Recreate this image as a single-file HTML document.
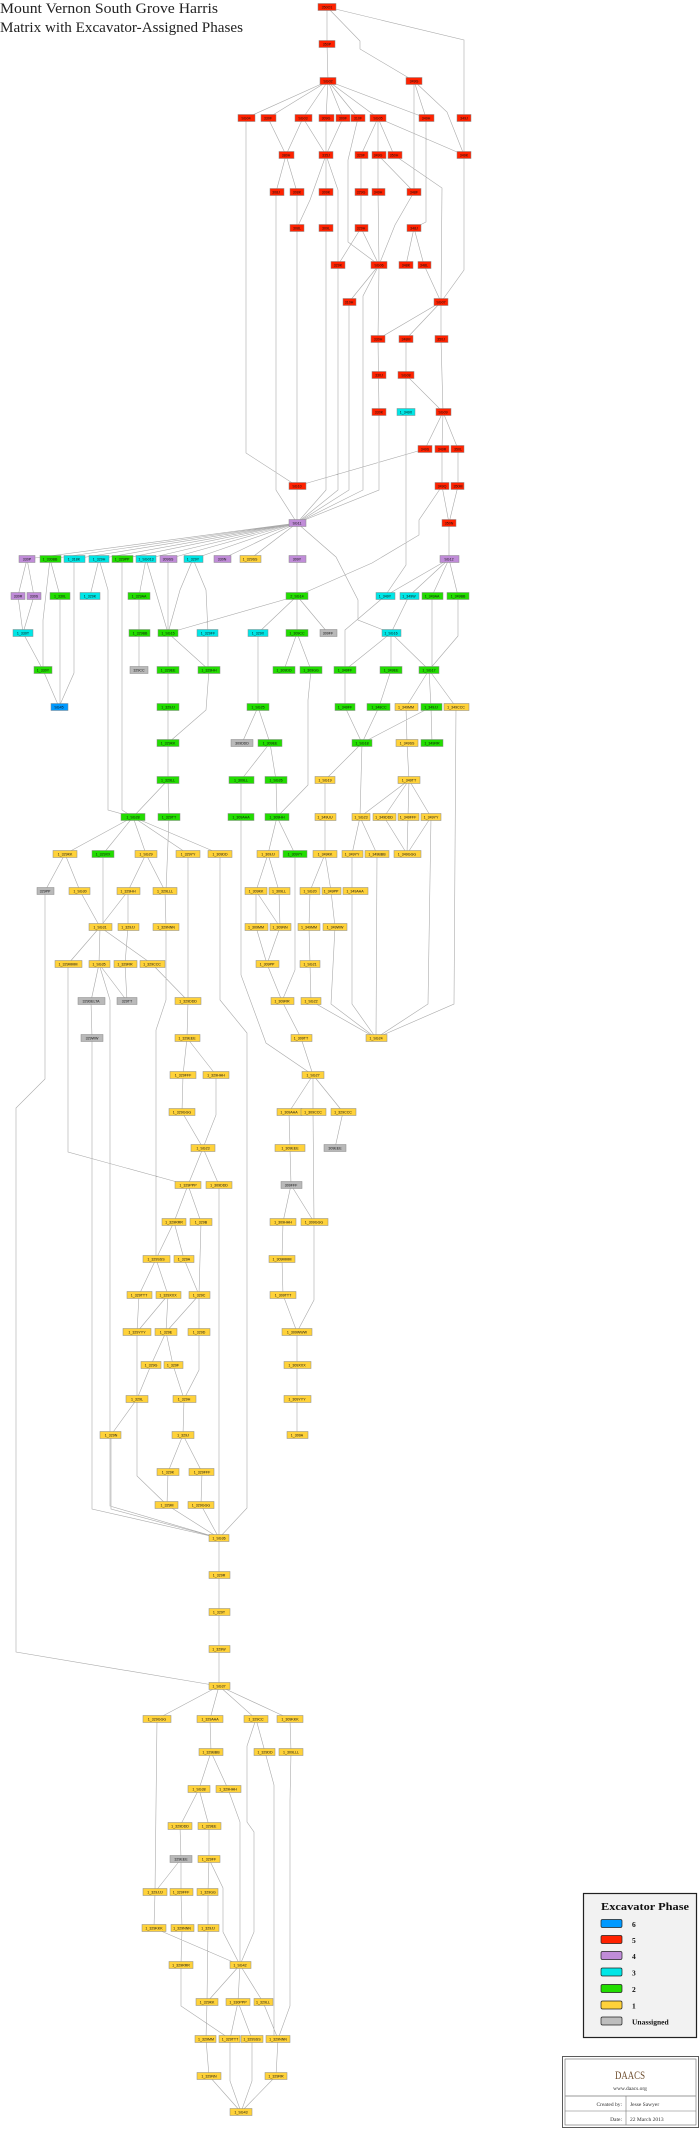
<!DOCTYPE html>
<html><head><meta charset="utf-8"><style>
html,body{margin:0;padding:0;background:#fff;}
svg{display:block}
.e{fill:none;stroke:#aaa;stroke-width:0.6}
rect.n{stroke:#888;stroke-width:0.5}
.R{fill:#ff2200}.P{fill:#c08cd8}.C{fill:#00e6e6}.G{fill:#22dd00}.Y{fill:#ffd23a}.U{fill:#b9b9b9}.B{fill:#0099ff}
text.t{font-family:"Liberation Sans",sans-serif;font-size:3.6px;text-anchor:middle;fill:#111}
</style></head><body>
<svg width="700" height="2129" viewBox="0 0 700 2129" xmlns="http://www.w3.org/2000/svg">
<text x="0" y="13" font-family="Liberation Serif,serif" font-size="15" textLength="218" lengthAdjust="spacingAndGlyphs" fill="#222">Mount Vernon South Grove Harris</text>
<text x="0" y="32" font-family="Liberation Serif,serif" font-size="15" textLength="243" lengthAdjust="spacingAndGlyphs" fill="#222">Matrix with Excavator-Assigned Phases</text>
<path class="e" d="
M327 7L327 44 M327 7L360 41L360 49L414 81 M327 7L464 40L464 118 M327 44L328 81
M328 81L246 118 M328 81L268 118 M328 81L303 118 M328 81L326 118 M328 81L343 118 M328 81L358 118 M328 81L378 118 M328 81L426 118
M414 81L414 192 M414 81L426 118 M414 81L447 112L464 155 M464 118L464 155
M268 118L286 155 M303 118L286 155 M303 118L326 155 M326 118L326 155 M343 118L326 155
M358 118L348 160L348 242L379 265
M378 118L361 155 M378 118L378 155 M378 118L394 155 M378 118L464 155
M286 155L276 192 M286 155L297 192 M326 155L326 192 M326 155L310 200L297 228 M326 155L338 190L338 265
M361 155L361 228 M378 155L378 192L379 265 M378 155L414 192 M394 155L442 188L441 302
M414 192L395 225L379 265 M426 118L426 222L414 228
M297 192L297 228 M326 192L326 228 M361 228L338 265 M361 228L379 265 M414 228L406 265 M414 228L424 265
M464 155L464 270L441 302 M424 265L441 302
M379 265L349 302 M379 265L378 339 M379 265L363 296L363 490L297 523
M441 302L378 339 M441 302L406 339 M441 302L441 339
M378 339L379 412 M406 339L406 375 M406 375L443 412 M406 375L406 412 M441 339L443 412
M443 412L425 449 M443 412L442 449 M443 412L458 449 M442 449L442 486 M458 449L458 486 M442 486L449 523 M458 486L449 523
M425 449L297 486 M246 118L246 453L297 486 M297 486L297 523
M276 192L276 490L297 523 M297 228L297 486 M326 228L326 490L297 523 M338 265L338 490L297 523 M349 302L349 490L297 523 M379 412L379 490L297 523
M442 486L419 520L419 535L372 563L297 596
M406 412L406 565L385 596 M449 523L449 559
M297 523L27 559 M297 523L50 559 M297 523L74 559 M297 523L99 559 M297 523L122 559 M297 523L146 559 M297 523L168 559 M297 523L193 559 M297 523L222 559 M297 523L250 559 M297 523L297 559 M297 523L336 557L358 600L358 620L391 633
M449 559L385 596 M449 559L409 596 M449 559L432 596 M449 559L458 596
M27 559L18 596 M27 559L34 596 M18 596L23 633 M34 596L23 633
M50 559L60 596 M50 559L43 620L43 670 M74 559L74 673L59 707
M99 559L90 596 M99 559L108 590L108 810L133 817 M122 559L122 810L133 817
M146 559L139 596 M146 559L168 633 M168 559L168 633 M193 559L180 590L168 633 M193 559L206 590L208 633
M297 559L297 596 M297 596L168 633 M297 596L258 633 M297 596L297 633 M297 596L328 633
M23 633L43 670 M60 596L60 707 M43 670L59 707
M139 596L139 670 M168 633L168 670 M168 633L209 670 M208 633L208 670 M209 670L206 710L168 743
M168 670L168 780 M258 633L258 707 M297 633L284 670 M297 633L311 670
M311 670L308 700L308 785L277 817
M391 633L345 670 M391 633L391 670 M391 633L429 670 M385 596L345 630L345 670 M409 596L391 633 M432 596L432 670 M458 596L458 636L429 670
M345 670L345 707 M391 670L379 707 M429 670L431 707 M429 670L456 707 M429 670L406 707
M345 707L362 743 M379 707L362 743 M431 707L362 743 M406 707L407 743 M431 707L432 743 M456 707L454 1004L376 1038
M258 707L242 743 M258 707L270 743 M270 743L241 780 M270 743L276 780
M362 743L325 780 M362 743L360 817 M407 743L409 780
M168 780L133 817 M168 780L169 817 M169 817L166 891
M241 780L241 817 M276 780L277 817 M325 780L325 817
M409 780L360 817 M409 780L384 817 M409 780L408 817 M409 780L431 817
M133 817L65 854 M133 817L103 854 M133 817L146 854 M133 817L188 854 M133 817L220 854
M241 817L241 975L266 1043L313 1075
M277 817L268 854 M277 817L295 854 M325 817L325 854 M360 817L352 854 M360 817L377 854
M384 817L407 854 M408 817L407 854 M431 817L407 854 M431 817L428 1004L376 1038
M65 854L45 891 M65 854L80 891 M103 854L103 927 M146 854L128 891 M146 854L165 891 M188 854L188 1001
M220 854L220 1000L247 1033L247 1508L219 1538
M268 854L256 891 M268 854L279 891 M325 854L310 891 M325 854L331 891
M352 854L352 1004L376 1038 M377 854L376 1038 M295 854L295 970L282 1001
M45 891L45 1079L16 1108L16 1652L219 1686
M80 891L100 927 M128 891L100 927 M128 891L128 927 M165 891L166 927
M256 891L256 927 M256 891L280 927 M279 891L280 927 M310 891L309 927 M331 891L335 927
M100 927L68 964 M100 927L99 964 M100 927L152 964 M128 927L125 964
M256 927L267 964 M280 927L267 964 M309 927L310 964 M335 927L331 1004L376 1038
M68 964L68 1152L188 1185
M99 964L91 1001 M99 964L127 1001 M99 964L110 1000L110 1506L219 1538
M125 964L127 1001 M152 964L188 1001 M166 927L166 1000L156 1030L156 1259
M267 964L282 1001 M310 964L311 1001 M311 1001L376 1038
M91 1001L92 1038 M92 1038L92 1509L219 1538
M188 1001L187 1038 M282 1001L301 1038
M187 1038L183 1075 M187 1038L216 1075 M301 1038L313 1075
M313 1075L289 1112 M313 1075L313 1112 M313 1075L343 1112
M183 1075L182 1112 M182 1112L203 1148 M216 1075L216 1115L203 1148
M203 1148L188 1185 M203 1148L219 1185 M289 1112L290 1148 M343 1112L335 1148 M313 1112L314 1222 M314 1222L314 1300L297 1332
M290 1148L291 1185 M291 1185L283 1222 M291 1185L314 1222
M188 1185L174 1222 M188 1185L201 1222 M219 1185L219 1538
M174 1222L156 1259 M174 1222L184 1259 M201 1222L199 1295 M283 1222L282 1259L283 1295L297 1332
M156 1259L139 1295 M156 1259L168 1295 M184 1259L199 1295
M139 1295L137 1332 M168 1295L137 1332 M168 1295L166 1332 M199 1295L166 1332 M199 1295L199 1332
M137 1332L137 1399 M166 1332L151 1365 M166 1332L173 1365 M199 1332L199 1370L184 1399
M151 1365L137 1399 M173 1365L184 1399 M297 1332L297 1435
M137 1399L111 1435 M137 1399L137 1476L167 1505 M184 1399L183 1435
M183 1435L168 1472 M183 1435L202 1472 M168 1472L167 1505 M202 1472L201 1505
M111 1435L111 1509L219 1538 M167 1505L219 1538 M201 1505L219 1538
M219 1538L219 1686
M219 1686L157 1719 M219 1686L210 1719 M219 1686L256 1719 M219 1686L290 1719
M157 1719L155 1892 M210 1719L211 1752
M256 1719L247 1746L247 1822L254 1832L254 1932L240 1965 M256 1719L265 1752
M290 1719L291 1752L290 1800L290 2006L278 2039 M265 1752L274 1785L274 2039
M211 1752L199 1789 M211 1752L228 1789 M199 1789L180 1826 M199 1789L209 1826 M228 1789L240 1822L240 1965
M180 1826L181 1859 M209 1826L209 1859 M181 1859L155 1892 M181 1859L181 1892 M209 1859L208 1892 M209 1859L223 1888L223 1932L240 1965
M155 1892L154 1928 M181 1892L182 1928 M208 1892L208 1928 M154 1928L240 1965 M182 1928L181 1965 M208 1928L207 2002
M240 1965L207 2002 M240 1965L238 2002 M240 1965L263 2002
M181 1965L181 2006L230 2039 M238 2002L230 2039 M238 2002L252 2039 M263 2002L278 2039
M207 2002L206 2039L209 2076L241 2112 M230 2039L230 2081L241 2112 M252 2039L252 2081L241 2112 M278 2039L276 2076L241 2112
"/>
<g id="nodes">
<rect class="n R" x="318" y="3.5" width="18" height="7"/><text class="t" x="327" y="8.7">350O1</text>
<rect class="n R" x="319" y="40.5" width="16" height="7"/><text class="t" x="327" y="45.7">350P</text>
<rect class="n R" x="320" y="77.5" width="16" height="7"/><text class="t" x="328" y="82.7">SG02</text>
<rect class="n R" x="406" y="77.5" width="16" height="7"/><text class="t" x="414" y="82.7">349G</text>
<rect class="n R" x="238" y="114.5" width="17" height="7"/><text class="t" x="246" y="119.7">SG04</text>
<rect class="n R" x="261" y="114.5" width="15" height="7"/><text class="t" x="268" y="119.7">330F</text>
<rect class="n R" x="295" y="114.5" width="17" height="7"/><text class="t" x="303" y="119.7">SG03</text>
<rect class="n R" x="319" y="114.5" width="15" height="7"/><text class="t" x="326" y="119.7">309G</text>
<rect class="n R" x="336" y="114.5" width="14" height="7"/><text class="t" x="343" y="119.7">309F</text>
<rect class="n R" x="351" y="114.5" width="14" height="7"/><text class="t" x="358" y="119.7">310F</text>
<rect class="n R" x="370" y="114.5" width="16" height="7"/><text class="t" x="378" y="119.7">SG05</text>
<rect class="n R" x="419" y="114.5" width="15" height="7"/><text class="t" x="426" y="119.7">349H</text>
<rect class="n R" x="457" y="114.5" width="14" height="7"/><text class="t" x="464" y="119.7">349J</text>
<rect class="n R" x="279" y="151.5" width="15" height="7"/><text class="t" x="286" y="156.7">380H</text>
<rect class="n R" x="319" y="151.5" width="14" height="7"/><text class="t" x="326" y="156.7">335J</text>
<rect class="n R" x="355" y="151.5" width="13" height="7"/><text class="t" x="361" y="156.7">329F</text>
<rect class="n R" x="372" y="151.5" width="14" height="7"/><text class="t" x="378" y="156.7">349G</text>
<rect class="n R" x="388" y="151.5" width="14" height="7"/><text class="t" x="394" y="156.7">350H</text>
<rect class="n R" x="457" y="151.5" width="14" height="7"/><text class="t" x="464" y="156.7">349K</text>
<rect class="n R" x="270" y="188.5" width="14" height="7"/><text class="t" x="276" y="193.7">308J</text>
<rect class="n R" x="290" y="188.5" width="14" height="7"/><text class="t" x="297" y="193.7">308K</text>
<rect class="n R" x="319" y="188.5" width="14" height="7"/><text class="t" x="326" y="193.7">309K</text>
<rect class="n R" x="355" y="188.5" width="13" height="7"/><text class="t" x="361" y="193.7">329G</text>
<rect class="n R" x="372" y="188.5" width="13" height="7"/><text class="t" x="378" y="193.7">349H</text>
<rect class="n R" x="407" y="188.5" width="14" height="7"/><text class="t" x="414" y="193.7">348F</text>
<rect class="n R" x="290" y="224.5" width="14" height="7"/><text class="t" x="297" y="229.7">308L</text>
<rect class="n R" x="319" y="224.5" width="14" height="7"/><text class="t" x="326" y="229.7">309L</text>
<rect class="n R" x="355" y="224.5" width="13" height="7"/><text class="t" x="361" y="229.7">329H</text>
<rect class="n R" x="407" y="224.5" width="14" height="7"/><text class="t" x="414" y="229.7">348J</text>
<rect class="n R" x="331" y="261.5" width="14" height="7"/><text class="t" x="338" y="266.7">329K</text>
<rect class="n R" x="371" y="261.5" width="16" height="7"/><text class="t" x="379" y="266.7">SG06</text>
<rect class="n R" x="399" y="261.5" width="14" height="7"/><text class="t" x="406" y="266.7">348K</text>
<rect class="n R" x="418" y="261.5" width="13" height="7"/><text class="t" x="424" y="266.7">348L</text>
<rect class="n R" x="343" y="298.5" width="13" height="7"/><text class="t" x="349" y="303.7">310H</text>
<rect class="n R" x="434" y="298.5" width="14" height="7"/><text class="t" x="441" y="303.7">SG07</text>
<rect class="n R" x="371" y="335.5" width="14" height="7"/><text class="t" x="378" y="340.7">330H</text>
<rect class="n R" x="399" y="335.5" width="14" height="7"/><text class="t" x="406" y="340.7">348M</text>
<rect class="n R" x="435" y="335.5" width="13" height="7"/><text class="t" x="441" y="340.7">350J</text>
<rect class="n R" x="372" y="371.5" width="14" height="7"/><text class="t" x="379" y="376.7">330J</text>
<rect class="n R" x="398" y="371.5" width="16" height="7"/><text class="t" x="406" y="376.7">SG08</text>
<rect class="n R" x="372" y="408.5" width="14" height="7"/><text class="t" x="379" y="413.7">330K</text>
<rect class="n C" x="397" y="408.5" width="18" height="7"/><text class="t" x="406" y="413.7">1_349X</text>
<rect class="n R" x="436" y="408.5" width="15" height="7"/><text class="t" x="443" y="413.7">SG09</text>
<rect class="n R" x="418" y="445.5" width="14" height="7"/><text class="t" x="425" y="450.7">349S</text>
<rect class="n R" x="435" y="445.5" width="14" height="7"/><text class="t" x="442" y="450.7">349R</text>
<rect class="n R" x="451" y="445.5" width="13" height="7"/><text class="t" x="458" y="450.7">350L</text>
<rect class="n R" x="289" y="482.5" width="17" height="7"/><text class="t" x="297" y="487.7">SG10</text>
<rect class="n R" x="435" y="482.5" width="14" height="7"/><text class="t" x="442" y="487.7">349Q</text>
<rect class="n R" x="451" y="482.5" width="13" height="7"/><text class="t" x="458" y="487.7">350M</text>
<rect class="n P" x="289" y="519.5" width="17" height="7"/><text class="t" x="297" y="524.7">SG11</text>
<rect class="n R" x="442" y="519.5" width="14" height="7"/><text class="t" x="449" y="524.7">350N</text>

<rect class="n P" x="19" y="555.5" width="16" height="7"/><text class="t" x="27" y="560.7">330P</text>
<rect class="n G" x="40" y="555.5" width="21" height="7"/><text class="t" x="50" y="560.7">1_330BB</text>
<rect class="n C" x="64" y="555.5" width="21" height="7"/><text class="t" x="74" y="560.7">1_318K</text>
<rect class="n C" x="89" y="555.5" width="20" height="7"/><text class="t" x="99" y="560.7">1_329H</text>
<rect class="n G" x="112" y="555.5" width="21" height="7"/><text class="t" x="122" y="560.7">1_329PP</text>
<rect class="n C" x="136" y="555.5" width="20" height="7"/><text class="t" x="146" y="560.7">1_SG013</text>
<rect class="n P" x="160" y="555.5" width="17" height="7"/><text class="t" x="168" y="560.7">309SS</text>
<rect class="n C" x="184" y="555.5" width="19" height="7"/><text class="t" x="193" y="560.7">1_329Y</text>
<rect class="n P" x="214" y="555.5" width="17" height="7"/><text class="t" x="222" y="560.7">330N</text>
<rect class="n Y" x="240" y="555.5" width="21" height="7"/><text class="t" x="250" y="560.7">1_329SS</text>
<rect class="n P" x="289" y="555.5" width="17" height="7"/><text class="t" x="297" y="560.7">309Y</text>
<rect class="n P" x="440" y="555.5" width="19" height="7"/><text class="t" x="449" y="560.7">SG12</text>

<rect class="n P" x="11" y="592.5" width="14" height="7"/><text class="t" x="18" y="597.7">330R</text>
<rect class="n P" x="27" y="592.5" width="14" height="7"/><text class="t" x="34" y="597.7">330S</text>
<rect class="n G" x="50" y="592.5" width="20" height="7"/><text class="t" x="60" y="597.7">1_330L</text>
<rect class="n C" x="80" y="592.5" width="20" height="7"/><text class="t" x="90" y="597.7">1_329K</text>
<rect class="n G" x="128" y="592.5" width="22" height="7"/><text class="t" x="139" y="597.7">1_329AA</text>
<rect class="n G" x="286" y="592.5" width="22" height="7"/><text class="t" x="297" y="597.7">2_SG14</text>
<rect class="n C" x="376" y="592.5" width="19" height="7"/><text class="t" x="385" y="597.7">1_349Y</text>
<rect class="n C" x="400" y="592.5" width="19" height="7"/><text class="t" x="409" y="597.7">1_349W</text>
<rect class="n G" x="422" y="592.5" width="21" height="7"/><text class="t" x="432" y="597.7">1_349AA</text>
<rect class="n G" x="447" y="592.5" width="22" height="7"/><text class="t" x="458" y="597.7">1_349BB</text>

<rect class="n C" x="13" y="629.5" width="20" height="7"/><text class="t" x="23" y="634.7">1_330T</text>
<rect class="n G" x="129" y="629.5" width="21" height="7"/><text class="t" x="140" y="634.7">1_329BB</text>
<rect class="n G" x="158" y="629.5" width="20" height="7"/><text class="t" x="168" y="634.7">1_SG15</text>
<rect class="n C" x="197" y="629.5" width="21" height="7"/><text class="t" x="208" y="634.7">1_329FF</text>
<rect class="n C" x="248" y="629.5" width="20" height="7"/><text class="t" x="258" y="634.7">1_329X</text>
<rect class="n G" x="286" y="629.5" width="22" height="7"/><text class="t" x="297" y="634.7">1_309CC</text>
<rect class="n U" x="320" y="629.5" width="17" height="7"/><text class="t" x="328" y="634.7">309FF</text>
<rect class="n C" x="382" y="629.5" width="19" height="7"/><text class="t" x="391" y="634.7">1_SG16</text>

<rect class="n G" x="34" y="666.5" width="18" height="7"/><text class="t" x="43" y="671.7">1_330Y</text>
<rect class="n U" x="130" y="666.5" width="18" height="7"/><text class="t" x="139" y="671.7">329CC</text>
<rect class="n G" x="157" y="666.5" width="22" height="7"/><text class="t" x="168" y="671.7">1_329EE</text>
<rect class="n G" x="198" y="666.5" width="22" height="7"/><text class="t" x="209" y="671.7">1_329HH</text>
<rect class="n G" x="273" y="666.5" width="22" height="7"/><text class="t" x="284" y="671.7">1_309DD</text>
<rect class="n G" x="300" y="666.5" width="22" height="7"/><text class="t" x="311" y="671.7">1_309GG</text>
<rect class="n G" x="334" y="666.5" width="22" height="7"/><text class="t" x="345" y="671.7">1_349FF</text>
<rect class="n G" x="380" y="666.5" width="22" height="7"/><text class="t" x="391" y="671.7">1_349EE</text>
<rect class="n G" x="419" y="666.5" width="20" height="7"/><text class="t" x="429" y="671.7">1_SG17</text>

<rect class="n B" x="51" y="703.5" width="17" height="7"/><text class="t" x="59" y="708.7">SG45</text>
<rect class="n G" x="157" y="703.5" width="22" height="7"/><text class="t" x="168" y="708.7">1_329JJ</text>
<rect class="n G" x="247" y="703.5" width="22" height="7"/><text class="t" x="258" y="708.7">1_SG25</text>
<rect class="n G" x="335" y="703.5" width="20" height="7"/><text class="t" x="345" y="708.7">1_349FF</text>
<rect class="n G" x="367" y="703.5" width="23" height="7"/><text class="t" x="379" y="708.7">1_348CC</text>
<rect class="n Y" x="395" y="703.5" width="23" height="7"/><text class="t" x="406" y="708.7">1_349MM</text>
<rect class="n G" x="421" y="703.5" width="21" height="7"/><text class="t" x="431" y="708.7">1_349JJ</text>
<rect class="n Y" x="444" y="703.5" width="25" height="7"/><text class="t" x="456" y="708.7">1_349CCC</text>

<rect class="n G" x="157" y="739.5" width="22" height="7"/><text class="t" x="168" y="744.7">1_329KK</text>
<rect class="n U" x="231" y="739.5" width="22" height="7"/><text class="t" x="242" y="744.7">309DDD</text>
<rect class="n G" x="258" y="739.5" width="24" height="7"/><text class="t" x="270" y="744.7">1_309EE</text>
<rect class="n G" x="352" y="739.5" width="20" height="7"/><text class="t" x="362" y="744.7">1_SG18</text>
<rect class="n Y" x="396" y="739.5" width="22" height="7"/><text class="t" x="407" y="744.7">1_349SS</text>
<rect class="n G" x="421" y="739.5" width="22" height="7"/><text class="t" x="432" y="744.7">1_349RR</text>

<rect class="n G" x="157" y="776.5" width="22" height="7"/><text class="t" x="168" y="781.7">1_329LL</text>
<rect class="n G" x="229" y="776.5" width="25" height="7"/><text class="t" x="241" y="781.7">1_309LL</text>
<rect class="n G" x="265" y="776.5" width="22" height="7"/><text class="t" x="276" y="781.7">1_SG26</text>
<rect class="n Y" x="315" y="776.5" width="20" height="7"/><text class="t" x="325" y="781.7">1_SG19</text>
<rect class="n Y" x="398" y="776.5" width="22" height="7"/><text class="t" x="409" y="781.7">1_349TT</text>

<rect class="n G" x="121" y="813.5" width="24" height="7"/><text class="t" x="133" y="818.7">1_SG28</text>
<rect class="n G" x="158" y="813.5" width="22" height="7"/><text class="t" x="169" y="818.7">1_329TT</text>
<rect class="n G" x="228" y="813.5" width="26" height="7"/><text class="t" x="241" y="818.7">1_309AAA</text>
<rect class="n G" x="265" y="813.5" width="24" height="7"/><text class="t" x="277" y="818.7">1_309HH</text>
<rect class="n Y" x="315" y="813.5" width="21" height="7"/><text class="t" x="325" y="818.7">1_349UU</text>
<rect class="n Y" x="352" y="813.5" width="18" height="7"/><text class="t" x="361" y="818.7">1_SG23</text>
<rect class="n Y" x="373" y="813.5" width="23" height="7"/><text class="t" x="384" y="818.7">1_349DDD</text>
<rect class="n Y" x="398" y="813.5" width="21" height="7"/><text class="t" x="408" y="818.7">1_349FFF</text>
<rect class="n Y" x="421" y="813.5" width="20" height="7"/><text class="t" x="431" y="818.7">1_349YY</text>

<rect class="n Y" x="53" y="850.5" width="24" height="7"/><text class="t" x="65" y="855.7">1_329KK</text>
<rect class="n G" x="92" y="850.5" width="22" height="7"/><text class="t" x="103" y="855.7">1_329XX</text>
<rect class="n Y" x="135" y="850.5" width="22" height="7"/><text class="t" x="146" y="855.7">1_SG29</text>
<rect class="n Y" x="176" y="850.5" width="24" height="7"/><text class="t" x="188" y="855.7">1_329YY</text>
<rect class="n Y" x="208" y="850.5" width="24" height="7"/><text class="t" x="220" y="855.7">1_309DD</text>
<rect class="n Y" x="257" y="850.5" width="22" height="7"/><text class="t" x="268" y="855.7">1_309JJ</text>
<rect class="n G" x="283" y="850.5" width="24" height="7"/><text class="t" x="295" y="855.7">1_309YY</text>
<rect class="n Y" x="313" y="850.5" width="24" height="7"/><text class="t" x="325" y="855.7">1_349KK</text>
<rect class="n Y" x="342" y="850.5" width="21" height="7"/><text class="t" x="352" y="855.7">1_349YY</text>
<rect class="n Y" x="365" y="850.5" width="24" height="7"/><text class="t" x="377" y="855.7">1_349BBB</text>
<rect class="n Y" x="394" y="850.5" width="27" height="7"/><text class="t" x="407" y="855.7">1_349GGG</text>

<rect class="n U" x="37" y="887.5" width="17" height="7"/><text class="t" x="45" y="892.7">329PP</text>
<rect class="n Y" x="69" y="887.5" width="21" height="7"/><text class="t" x="80" y="892.7">1_SG30</text>
<rect class="n Y" x="117" y="887.5" width="23" height="7"/><text class="t" x="128" y="892.7">1_329HH</text>
<rect class="n Y" x="153" y="887.5" width="24" height="7"/><text class="t" x="165" y="892.7">1_329LLL</text>
<rect class="n Y" x="245" y="887.5" width="22" height="7"/><text class="t" x="256" y="892.7">1_309KK</text>
<rect class="n Y" x="269" y="887.5" width="21" height="7"/><text class="t" x="279" y="892.7">1_309LL</text>
<rect class="n Y" x="300" y="887.5" width="20" height="7"/><text class="t" x="310" y="892.7">1_SG20</text>
<rect class="n Y" x="322" y="887.5" width="19" height="7"/><text class="t" x="331" y="892.7">1_349PP</text>
<rect class="n Y" x="343" y="887.5" width="25" height="7"/><text class="t" x="355" y="892.7">1_349AAA</text>

<rect class="n Y" x="89" y="923.5" width="23" height="7"/><text class="t" x="100" y="928.7">1_SG31</text>
<rect class="n Y" x="118" y="923.5" width="21" height="7"/><text class="t" x="128" y="928.7">1_329JJ</text>
<rect class="n Y" x="153" y="923.5" width="26" height="7"/><text class="t" x="166" y="928.7">1_329NNN</text>
<rect class="n Y" x="245" y="923.5" width="23" height="7"/><text class="t" x="256" y="928.7">1_309MM</text>
<rect class="n Y" x="270" y="923.5" width="21" height="7"/><text class="t" x="280" y="928.7">1_309NN</text>
<rect class="n Y" x="298" y="923.5" width="22" height="7"/><text class="t" x="309" y="928.7">1_349MM</text>
<rect class="n Y" x="323" y="923.5" width="24" height="7"/><text class="t" x="335" y="928.7">1_349WW</text>

<rect class="n Y" x="55" y="960.5" width="27" height="7"/><text class="t" x="68" y="965.7">1_329MMM</text>
<rect class="n Y" x="89" y="960.5" width="21" height="7"/><text class="t" x="99" y="965.7">1_SG35</text>
<rect class="n Y" x="114" y="960.5" width="23" height="7"/><text class="t" x="125" y="965.7">1_329RR</text>
<rect class="n Y" x="140" y="960.5" width="25" height="7"/><text class="t" x="152" y="965.7">1_329CCC</text>
<rect class="n Y" x="256" y="960.5" width="23" height="7"/><text class="t" x="267" y="965.7">1_309PP</text>
<rect class="n Y" x="300" y="960.5" width="20" height="7"/><text class="t" x="310" y="965.7">1_SG21</text>

<rect class="n U" x="78" y="997.5" width="27" height="7"/><text class="t" x="91" y="1002.7">329DELTA</text>
<rect class="n U" x="117" y="997.5" width="20" height="7"/><text class="t" x="127" y="1002.7">329TT</text>
<rect class="n Y" x="175" y="997.5" width="26" height="7"/><text class="t" x="188" y="1002.7">1_329DDD</text>
<rect class="n Y" x="271" y="997.5" width="23" height="7"/><text class="t" x="282" y="1002.7">1_309RR</text>
<rect class="n Y" x="301" y="997.5" width="20" height="7"/><text class="t" x="311" y="1002.7">1_SG22</text>

<rect class="n U" x="81" y="1034.5" width="22" height="7"/><text class="t" x="92" y="1039.7">329WW</text>
<rect class="n Y" x="175" y="1034.5" width="25" height="7"/><text class="t" x="187" y="1039.7">1_329EEE</text>
<rect class="n Y" x="291" y="1034.5" width="21" height="7"/><text class="t" x="301" y="1039.7">1_309TT</text>
<rect class="n Y" x="366" y="1034.5" width="21" height="7"/><text class="t" x="376" y="1039.7">1_SG24</text>

<rect class="n Y" x="170" y="1071.5" width="26" height="7"/><text class="t" x="183" y="1076.7">1_329FFF</text>
<rect class="n Y" x="203" y="1071.5" width="26" height="7"/><text class="t" x="216" y="1076.7">1_329HHH</text>
<rect class="n Y" x="302" y="1071.5" width="22" height="7"/><text class="t" x="313" y="1076.7">1_SG27</text>

<rect class="n Y" x="169" y="1108.5" width="26" height="7"/><text class="t" x="182" y="1113.7">1_329GGG</text>
<rect class="n Y" x="277" y="1108.5" width="25" height="7"/><text class="t" x="289" y="1113.7">1_309AAA</text>
<rect class="n Y" x="301" y="1108.5" width="25" height="7"/><text class="t" x="313" y="1113.7">1_309CCC</text>
<rect class="n Y" x="331" y="1108.5" width="25" height="7"/><text class="t" x="343" y="1113.7">1_329CCC</text>

<rect class="n Y" x="191" y="1144.5" width="24" height="7"/><text class="t" x="203" y="1149.7">1_SG23</text>
<rect class="n Y" x="275" y="1144.5" width="30" height="7"/><text class="t" x="290" y="1149.7">1_309EEE</text>
<rect class="n U" x="324" y="1144.5" width="22" height="7"/><text class="t" x="335" y="1149.7">309EEE</text>

<rect class="n Y" x="175" y="1181.5" width="26" height="7"/><text class="t" x="188" y="1186.7">1_329PPP</text>
<rect class="n Y" x="206" y="1181.5" width="26" height="7"/><text class="t" x="219" y="1186.7">1_309DDD</text>
<rect class="n U" x="281" y="1181.5" width="21" height="7"/><text class="t" x="291" y="1186.7">309FFF</text>

<rect class="n Y" x="162" y="1218.5" width="24" height="7"/><text class="t" x="174" y="1223.7">1_329RRR</text>
<rect class="n Y" x="190" y="1218.5" width="22" height="7"/><text class="t" x="201" y="1223.7">1_329B</text>
<rect class="n Y" x="270" y="1218.5" width="26" height="7"/><text class="t" x="283" y="1223.7">1_309HHH</text>
<rect class="n Y" x="301" y="1218.5" width="27" height="7"/><text class="t" x="314" y="1223.7">1_309GGG</text>

<rect class="n Y" x="143" y="1255.5" width="27" height="7"/><text class="t" x="156" y="1260.7">1_329SSS</text>
<rect class="n Y" x="174" y="1255.5" width="20" height="7"/><text class="t" x="184" y="1260.7">1_329A</text>
<rect class="n Y" x="269" y="1255.5" width="26" height="7"/><text class="t" x="282" y="1260.7">1_309MMM</text>

<rect class="n Y" x="127" y="1291.5" width="25" height="7"/><text class="t" x="139" y="1296.7">1_329TTT</text>
<rect class="n Y" x="156" y="1291.5" width="25" height="7"/><text class="t" x="168" y="1296.7">1_329XXX</text>
<rect class="n Y" x="189" y="1291.5" width="21" height="7"/><text class="t" x="199" y="1296.7">1_329C</text>
<rect class="n Y" x="270" y="1291.5" width="26" height="7"/><text class="t" x="283" y="1296.7">1_309TTT</text>

<rect class="n Y" x="123" y="1328.5" width="28" height="7"/><text class="t" x="137" y="1333.7">1_329YYY</text>
<rect class="n Y" x="155" y="1328.5" width="22" height="7"/><text class="t" x="166" y="1333.7">1_329E</text>
<rect class="n Y" x="188" y="1328.5" width="22" height="7"/><text class="t" x="199" y="1333.7">1_329D</text>
<rect class="n Y" x="282" y="1328.5" width="30" height="7"/><text class="t" x="297" y="1333.7">1_309WWW</text>

<rect class="n Y" x="141" y="1361.5" width="20" height="7"/><text class="t" x="151" y="1366.7">1_329G</text>
<rect class="n Y" x="164" y="1361.5" width="19" height="7"/><text class="t" x="173" y="1366.7">1_329F</text>
<rect class="n Y" x="284" y="1361.5" width="27" height="7"/><text class="t" x="297" y="1366.7">1_309XXX</text>

<rect class="n Y" x="126" y="1395.5" width="22" height="7"/><text class="t" x="137" y="1400.7">1_329L</text>
<rect class="n Y" x="173" y="1395.5" width="23" height="7"/><text class="t" x="184" y="1400.7">1_329H</text>
<rect class="n Y" x="284" y="1395.5" width="27" height="7"/><text class="t" x="297" y="1400.7">1_309YYY</text>

<rect class="n Y" x="100" y="1431.5" width="21" height="7"/><text class="t" x="111" y="1436.7">1_329N</text>
<rect class="n Y" x="172" y="1431.5" width="22" height="7"/><text class="t" x="183" y="1436.7">1_329J</text>
<rect class="n Y" x="287" y="1431.5" width="21" height="7"/><text class="t" x="297" y="1436.7">1_309A</text>

<rect class="n Y" x="157" y="1468.5" width="22" height="7"/><text class="t" x="168" y="1473.7">1_329K</text>
<rect class="n Y" x="189" y="1468.5" width="25" height="7"/><text class="t" x="202" y="1473.7">1_329FFF</text>

<rect class="n Y" x="155" y="1501.5" width="23" height="7"/><text class="t" x="167" y="1506.7">1_329M</text>
<rect class="n Y" x="188" y="1501.5" width="26" height="7"/><text class="t" x="201" y="1506.7">1_329GGG</text>

<rect class="n Y" x="209" y="1534.5" width="20" height="7"/><text class="t" x="219" y="1539.7">1_SG36</text>
<rect class="n Y" x="209" y="1571.5" width="21" height="7"/><text class="t" x="219" y="1576.7">1_329R</text>
<rect class="n Y" x="209" y="1608.5" width="21" height="7"/><text class="t" x="219" y="1613.7">1_329T</text>
<rect class="n Y" x="209" y="1645.5" width="21" height="7"/><text class="t" x="219" y="1650.7">1_329W</text>
<rect class="n Y" x="209" y="1682.5" width="21" height="7"/><text class="t" x="219" y="1687.7">1_SG37</text>

<rect class="n Y" x="143" y="1715.5" width="28" height="7"/><text class="t" x="157" y="1720.7">1_329GGG</text>
<rect class="n Y" x="197" y="1715.5" width="26" height="7"/><text class="t" x="210" y="1720.7">1_329AAA</text>
<rect class="n Y" x="244" y="1715.5" width="24" height="7"/><text class="t" x="256" y="1720.7">1_329CC</text>
<rect class="n Y" x="277" y="1715.5" width="26" height="7"/><text class="t" x="290" y="1720.7">1_309KKK</text>

<rect class="n Y" x="199" y="1748.5" width="24" height="7"/><text class="t" x="211" y="1753.7">1_329BBB</text>
<rect class="n Y" x="254" y="1748.5" width="21" height="7"/><text class="t" x="265" y="1753.7">1_329DD</text>
<rect class="n Y" x="279" y="1748.5" width="24" height="7"/><text class="t" x="291" y="1753.7">1_309LLL</text>

<rect class="n Y" x="188" y="1785.5" width="22" height="7"/><text class="t" x="199" y="1790.7">1_SG38</text>
<rect class="n Y" x="216" y="1785.5" width="25" height="7"/><text class="t" x="228" y="1790.7">1_329HHH</text>

<rect class="n Y" x="168" y="1822.5" width="24" height="7"/><text class="t" x="180" y="1827.7">1_329DDD</text>
<rect class="n Y" x="198" y="1822.5" width="23" height="7"/><text class="t" x="209" y="1827.7">1_329EE</text>

<rect class="n U" x="170" y="1855.5" width="22" height="7"/><text class="t" x="181" y="1860.7">329EEE</text>
<rect class="n Y" x="198" y="1855.5" width="22" height="7"/><text class="t" x="209" y="1860.7">1_329FF</text>

<rect class="n Y" x="143" y="1888.5" width="24" height="7"/><text class="t" x="155" y="1893.7">1_329JJJ</text>
<rect class="n Y" x="170" y="1888.5" width="23" height="7"/><text class="t" x="181" y="1893.7">1_329FFF</text>
<rect class="n Y" x="197" y="1888.5" width="21" height="7"/><text class="t" x="208" y="1893.7">1_329GG</text>

<rect class="n Y" x="142" y="1924.5" width="24" height="7"/><text class="t" x="154" y="1929.7">1_329KKK</text>
<rect class="n Y" x="171" y="1924.5" width="23" height="7"/><text class="t" x="182" y="1929.7">1_329NNN</text>
<rect class="n Y" x="198" y="1924.5" width="21" height="7"/><text class="t" x="208" y="1929.7">1_329JJ</text>

<rect class="n Y" x="169" y="1961.5" width="24" height="7"/><text class="t" x="181" y="1966.7">1_329RRR</text>
<rect class="n Y" x="230" y="1961.5" width="21" height="7"/><text class="t" x="240" y="1966.7">1_SG42</text>

<rect class="n Y" x="196" y="1998.5" width="22" height="7"/><text class="t" x="207" y="2003.7">1_329KK</text>
<rect class="n Y" x="226" y="1998.5" width="24" height="7"/><text class="t" x="238" y="2003.7">1_330PPP</text>
<rect class="n Y" x="254" y="1998.5" width="19" height="7"/><text class="t" x="263" y="2003.7">1_329LL</text>

<rect class="n Y" x="195" y="2035.5" width="21" height="7"/><text class="t" x="206" y="2040.7">1_329MM</text>
<rect class="n Y" x="219" y="2035.5" width="21" height="7"/><text class="t" x="230" y="2040.7">1_329TTT</text>
<rect class="n Y" x="241" y="2035.5" width="22" height="7"/><text class="t" x="252" y="2040.7">1_329SSS</text>
<rect class="n Y" x="266" y="2035.5" width="24" height="7"/><text class="t" x="278" y="2040.7">1_329NNN</text>

<rect class="n Y" x="197" y="2072.5" width="24" height="7"/><text class="t" x="209" y="2077.7">1_329NN</text>
<rect class="n Y" x="265" y="2072.5" width="22" height="7"/><text class="t" x="276" y="2077.7">1_329RR</text>
<rect class="n Y" x="230" y="2108.5" width="22" height="7"/><text class="t" x="241" y="2113.7">1_SG43</text>
</g>

<g font-family="Liberation Serif,serif" fill="#111">
<rect x="583.5" y="1893.5" width="113" height="144" fill="#f2f2f2" stroke="#222" stroke-width="1.2"/>
<text x="601" y="1910" font-size="10" font-weight="bold" textLength="88" lengthAdjust="spacingAndGlyphs">Excavator Phase</text>
<rect x="601" y="1919.5" width="21" height="8" rx="1.5" fill="#0099ff" stroke="#222" stroke-width="0.7"/><text x="632" y="1927" font-size="7.5" font-weight="bold">6</text>
<rect x="601" y="1935.5" width="21" height="8" rx="1.5" fill="#ff2200" stroke="#222" stroke-width="0.7"/><text x="632" y="1943" font-size="7.5" font-weight="bold">5</text>
<rect x="601" y="1951.5" width="21" height="8" rx="1.5" fill="#c08cd8" stroke="#222" stroke-width="0.7"/><text x="632" y="1959" font-size="7.5" font-weight="bold">4</text>
<rect x="601" y="1968" width="21" height="8" rx="1.5" fill="#00e6e6" stroke="#222" stroke-width="0.7"/><text x="632" y="1975.5" font-size="7.5" font-weight="bold">3</text>
<rect x="601" y="1984.5" width="21" height="8" rx="1.5" fill="#22dd00" stroke="#222" stroke-width="0.7"/><text x="632" y="1992" font-size="7.5" font-weight="bold">2</text>
<rect x="601" y="2001" width="21" height="8" rx="1.5" fill="#ffd23a" stroke="#222" stroke-width="0.7"/><text x="632" y="2008.5" font-size="7.5" font-weight="bold">1</text>
<rect x="601" y="2017" width="21" height="8" rx="1.5" fill="#bdbdbd" stroke="#222" stroke-width="0.7"/><text x="632" y="2024.5" font-size="7.5" font-weight="bold">Unassigned</text>

<rect x="562.5" y="2056.5" width="136" height="71" fill="#fff" stroke="#333" stroke-width="0.8"/>
<rect x="565" y="2059" width="131" height="66" fill="none" stroke="#666" stroke-width="0.6"/>
<text x="630" y="2079" font-size="12" text-anchor="middle" fill="#6b4a2a" textLength="30" lengthAdjust="spacingAndGlyphs">DAACS</text>
<text x="630" y="2090" font-size="5.5" text-anchor="middle" fill="#333">www.daacs.org</text>
<line x1="565" y1="2096" x2="696" y2="2096" stroke="#999" stroke-width="1"/>
<line x1="565" y1="2111" x2="696" y2="2111" stroke="#777" stroke-width="0.6"/>
<line x1="626" y1="2096" x2="626" y2="2125" stroke="#777" stroke-width="0.6"/>
<text x="622" y="2106" font-size="5.5" text-anchor="end" fill="#333">Created by:</text>
<text x="630" y="2106" font-size="5.5" fill="#333">Jesse Sawyer</text>
<text x="622" y="2121" font-size="5.5" text-anchor="end" fill="#333">Date:</text>
<text x="630" y="2121" font-size="5.5" fill="#333">22 March 2013</text>
</g>
</svg>
</body></html>
